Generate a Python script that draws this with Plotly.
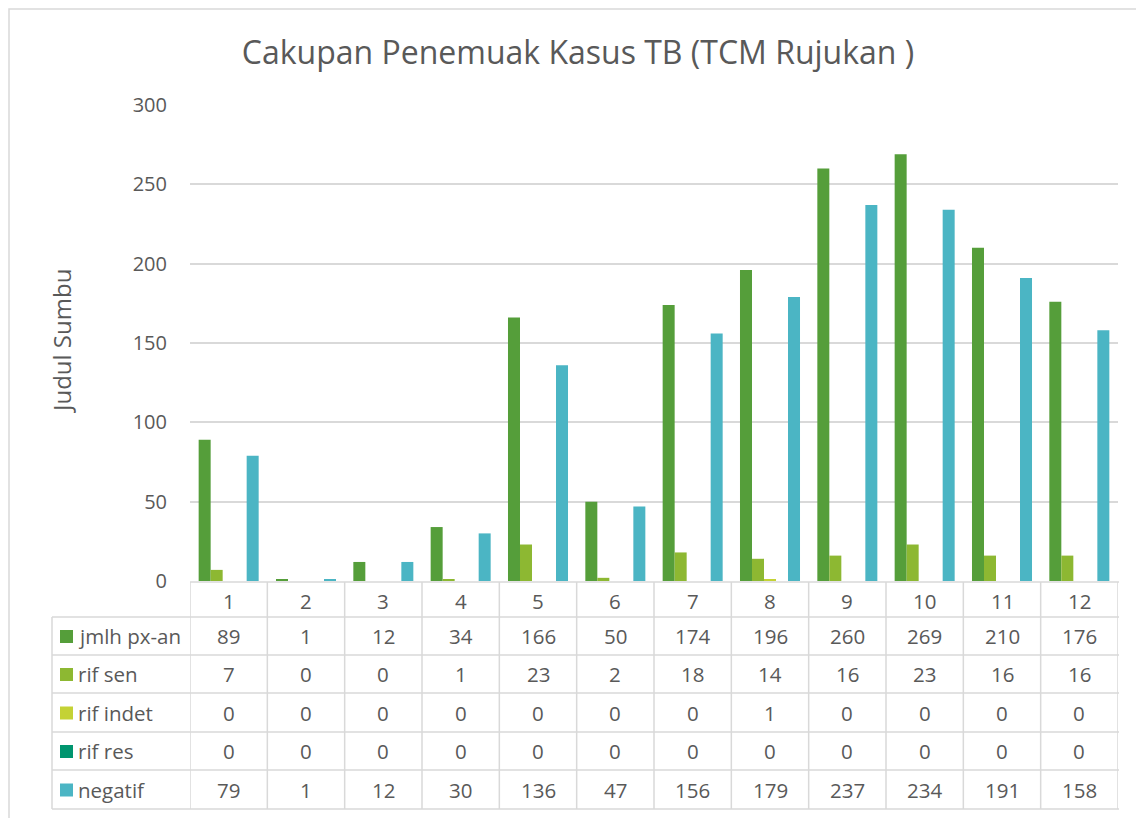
import plotly.graph_objects as go

categories = [1, 2, 3, 4, 5, 6, 7, 8, 9, 10, 11, 12]
series_names = ["jmlh px-an", "rif sen", "rif indet", "rif res", "negatif"]
jmlh_px_an = [89, 1, 12, 34, 166, 50, 174, 196, 260, 269, 210, 176]
rif_sen = [7, 0, 0, 1, 23, 2, 18, 14, 16, 23, 16, 16]
rif_indet = [0, 0, 0, 0, 0, 0, 0, 1, 0, 0, 0, 0]
rif_res = [0, 0, 0, 0, 0, 0, 0, 0, 0, 0, 0, 0]
negatif = [79, 1, 12, 30, 136, 47, 156, 179, 237, 234, 191, 158]
series_values = [jmlh_px_an, rif_sen, rif_indet, rif_res, negatif]
colors = ["#559E3A", "#8DB832", "#C4D235", "#00956F", "#4BB5C4"]

W, H = 1144, 818
OFF = 8  # page body margin
# reference screen pixels of plot area
SX0, SX1, SY0, SY1 = 190, 1118, 105, 581
L, R, T, B = SX0 - OFF, W - (SX1 - OFF), SY0 - OFF, H - (SY1 - OFF)
PW = SX1 - SX0
PH = SY1 - SY0
TXT = "#595959"
GRID = "#D9D9D9"
FONT = "Open Sans"


def px2x(px):
    return (px - SX0) / PW


def py2y(py):
    return (SY1 - py) / PH


fig = go.Figure()
for name, vals, col in zip(series_names, series_values, colors):
    fig.add_trace(go.Bar(x=categories, y=vals, name=name, marker_color=col,
                         marker_line_width=0, showlegend=False))

shapes = []
annotations = []

header_top = 582
row_edges = [617, 655, 693, 732, 770, 809]  # header bottom, then each row's bottom
left_px = 52
right_px = 1119
line = dict(color=GRID, width=1.5)

shapes.append(dict(type="line", xref="paper", yref="paper", x0=0, x1=px2x(right_px),
                   y0=py2y(header_top), y1=py2y(header_top), line=line))
for ry in row_edges:
    shapes.append(dict(type="line", xref="paper", yref="paper", x0=px2x(left_px), x1=px2x(right_px),
                       y0=py2y(ry), y1=py2y(ry), line=line))
shapes.append(dict(type="line", xref="paper", yref="paper", x0=px2x(left_px), x1=px2x(left_px),
                   y0=py2y(row_edges[0]), y1=py2y(row_edges[-1]), line=line))
for i in range(len(categories) + 1):
    xv = categories[0] - 0.5 + i
    shapes.append(dict(type="line", xref="x", yref="paper", x0=xv, x1=xv,
                       y0=py2y(header_top), y1=py2y(row_edges[-1]), line=line))

tf = dict(size=20.5, color=TXT, family=FONT)
for c in categories:
    annotations.append(dict(x=c, y=py2y((header_top + row_edges[0]) / 2 + 1), xref="x", yref="paper",
                            xanchor="center", yanchor="middle",
                            text=str(c), showarrow=False, font=tf))

for r, (name, vals, col) in enumerate(zip(series_names, series_values, colors)):
    yc = (row_edges[r] + row_edges[r + 1]) / 2
    shapes.append(dict(type="rect", xref="paper", yref="paper", x0=px2x(60), x1=px2x(73),
                       y0=py2y(yc - 6), y1=py2y(yc + 7), fillcolor=col, line=dict(width=0)))
    annotations.append(dict(x=px2x(76), y=py2y(yc), xref="paper", yref="paper",
                            xanchor="left", yanchor="middle",
                            text=name, showarrow=False, font=tf))
    for c, v in zip(categories, vals):
        annotations.append(dict(x=c, y=py2y(yc), xref="x", yref="paper", text=str(v),
                                xanchor="center", yanchor="middle",
                                showarrow=False, font=tf))

annotations.append(dict(x=px2x(61), y=py2y(341), xref="paper", yref="paper", text="Judul Sumbu",
                        xanchor="center", yanchor="middle",
                        textangle=-90, showarrow=False, font=dict(size=24, color=TXT, family=FONT)))

# outer chart border (the left/top edges sit at the very edge of the figure)
shapes.append(dict(type="rect", xref="paper", yref="paper", x0=px2x(9), x1=px2x(1170),
                   y0=py2y(840), y1=py2y(9), line=dict(color=GRID, width=1.5)))

fig.update_layout(
    width=W, height=H,
    margin=dict(l=L, r=R, t=T, b=B, autoexpand=False),
    paper_bgcolor="white", plot_bgcolor="white",
    barmode="group", bargap=0.224, bargroupgap=0,
    title=dict(text="Cakupan Penemuak Kasus TB (TCM Rujukan )", x=(578 - OFF) / W, xanchor="center",
               y=1 - (53 - OFF) / H, yanchor="middle", font=dict(size=32, color=TXT, family=FONT)),
    xaxis=dict(range=[0.5, 12.5], showticklabels=False, showgrid=False, zeroline=False,
               showline=False, ticks=""),
    yaxis=dict(range=[0, 300], dtick=50, showgrid=True, gridcolor=GRID, gridwidth=1.5,
               zeroline=False, showline=False, ticks="", ticklabelstandoff=22,
               tickfont=dict(size=20, color=TXT, family=FONT)),
    shapes=shapes, annotations=annotations,
)

fig.write_html("out.html")
